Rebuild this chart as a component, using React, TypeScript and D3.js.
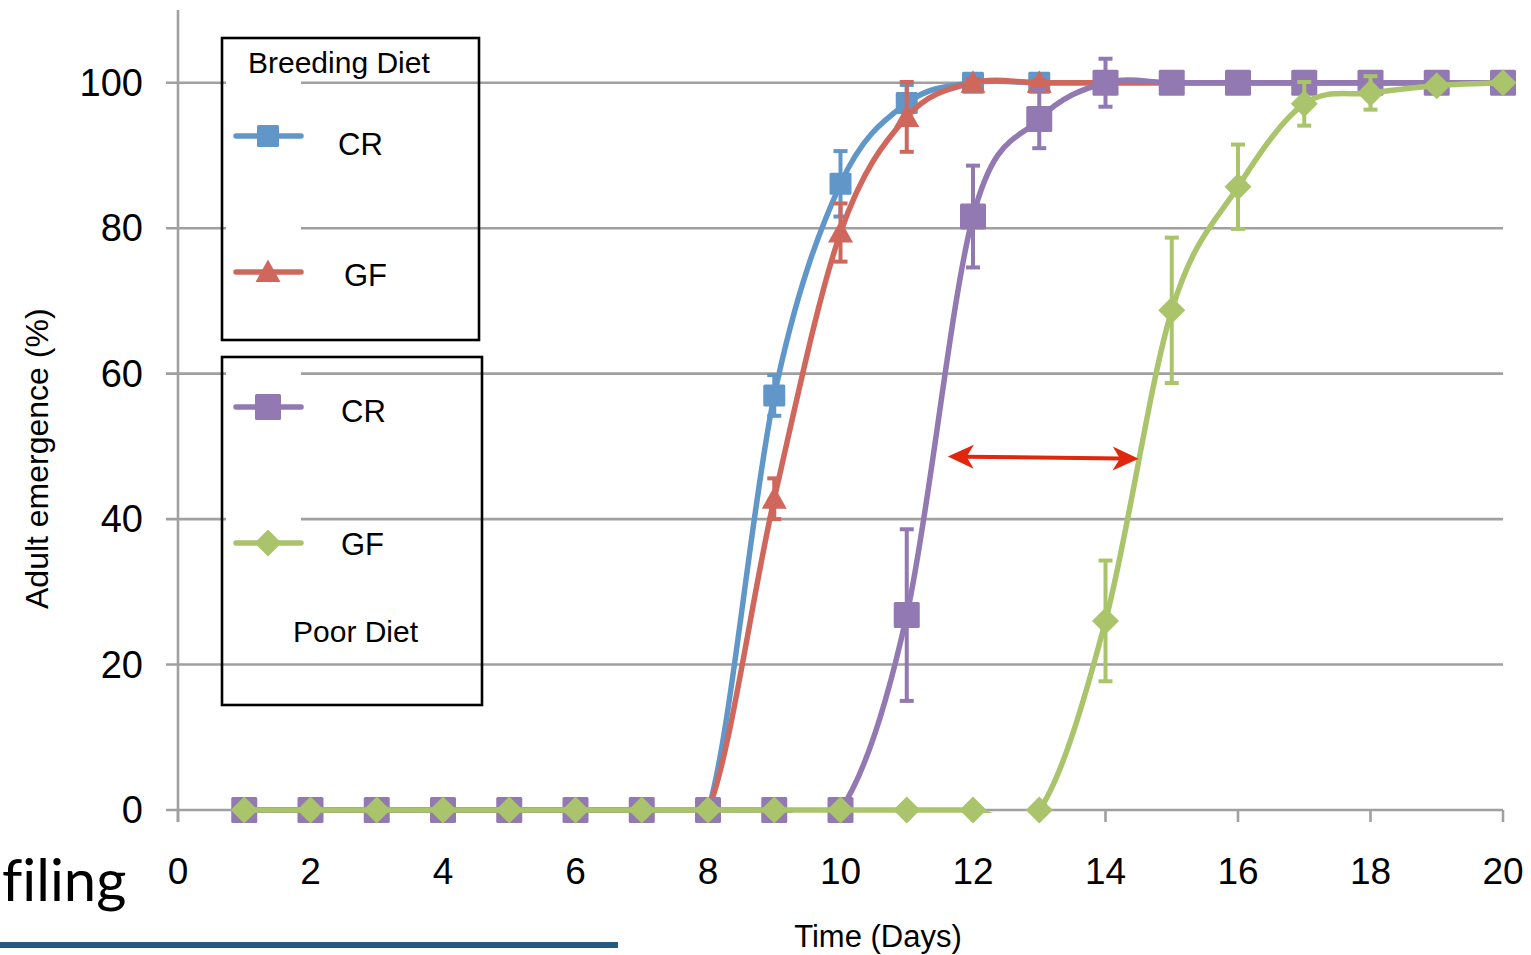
import React from "react";
import * as d3 from "d3";

// emergence (%) by day
const days = [1, 2, 3, 4, 5, 6, 7, 8, 9, 10, 11, 12, 13, 14, 15, 16, 17, 18, 19, 20];

const breedingCR = [0, 0, 0, 0, 0, 0, 0, 0, 57, 86.1, 97.2, 100, 100, 100, 100, 100, 100, 100, 100, 100];
const breedingCRErr = [0, 0, 0, 0, 0, 0, 0, 0, 2.8, 4.5, 2.5, 0.5, 0.4, 0, 0, 0, 0, 0, 0, 0];

const breedingGF = [0, 0, 0, 0, 0, 0, 0, 0, 42.8, 79.4, 95.3, 100, 100, 100, 100, 100, 100, 100, 100, 100];
const breedingGFErr = [0, 0, 0, 0, 0, 0, 0, 0, 2.8, 4, 4.8, 0.5, 0.3, 0, 0, 0, 0, 0, 0, 0];

const poorCR = [0, 0, 0, 0, 0, 0, 0, 0, 0, 0, 26.8, 81.6, 95, 100, 100, 100, 100, 100, 100, 100];
const poorCRErr = [0, 0, 0, 0, 0, 0, 0, 0, 0, 0, 11.8, 7, 4, 3.3, 0, 0, 0, 0, 0, 0];

const poorGF = [0, 0, 0, 0, 0, 0, 0, 0, 0, 0, 0, 0, 0, 26, 68.7, 85.7, 97.1, 98.6, 99.6, 100];
const poorGFErr = [0, 0, 0, 0, 0, 0, 0, 0, 0, 0, 0, 0, 0, 8.3, 10, 5.8, 3, 2.3, 0, 0];

const xTicks = [0, 2, 4, 6, 8, 10, 12, 14, 16, 18, 20];
const yTicks = [0, 20, 40, 60, 80, 100];

// the red double arrow between the two poor-diet curves
const arrowFrom = [11.62, 48.6];
const arrowTo = [14.5, 48.3];

const series = [
  { name: "CR", values: breedingCR, err: breedingCRErr, color: "#6097c8", marker: "square", size: 22 },
  { name: "GF", values: breedingGF, err: breedingGFErr, color: "#d0675c", marker: "triangle", size: 25 },
  { name: "CR", values: poorCR, err: poorCRErr, color: "#9279b2", marker: "square", size: 26 },
  { name: "GF", values: poorGF, err: poorGFErr, color: "#a9c46b", marker: "diamond", size: 27 },
];

const W = 1531;
const H = 955;
const font = "'Liberation Sans', Arial, sans-serif";

function Marker({ type, x, y, size, color }: any) {
  const h = size / 2;
  if (type === "square") {
    return <rect x={x - h} y={y - h} width={size} height={size} fill={color} rx={1.5} />;
  }
  if (type === "triangle") {
    return <path d={`M${x},${y - h}L${x + h},${y + h * 0.8}L${x - h},${y + h * 0.8}Z`} fill={color} />;
  }
  return <path d={`M${x},${y - h}L${x + h},${y}L${x},${y + h}L${x - h},${y}Z`} fill={color} />;
}

export default function App() {
  const x = d3.scaleLinear().domain([0, 20]).range([178, 1503]);
  const y = d3.scaleLinear().domain([0, 110]).range([810, 10]);

  const line = d3
    .line<number>()
    .x((_, i) => x(days[i]))
    .y((d) => y(d))
    .curve(d3.curveCatmullRom.alpha(0));

  const ax0 = x(arrowFrom[0]);
  const ay0 = y(arrowFrom[1]);
  const ax1 = x(arrowTo[0]);
  const ay1 = y(arrowTo[1]);
  const ang = Math.atan2(ay1 - ay0, ax1 - ax0);
  const head = (tx: number, ty: number, a: number) => {
    const L = 26, w = 12;
    const bx = tx - L * Math.cos(a), by = ty - L * Math.sin(a);
    const nx = -Math.sin(a), ny = Math.cos(a);
    const mx = tx - L * 0.72 * Math.cos(a), my = ty - L * 0.72 * Math.sin(a);
    return `M${tx},${ty}L${bx + nx * w},${by + ny * w}L${mx},${my}L${bx - nx * w},${by - ny * w}Z`;
  };

  const legendItems = [
    { s: series[0], ly: 136, tx: 338, ty: 155 },
    { s: series[1], ly: 272, tx: 344, ty: 286 },
    { s: series[2], ly: 407, tx: 341, ty: 422 },
    { s: series[3], ly: 543, tx: 341, ty: 555 },
  ];

  return (
    <svg width={W} height={H} style={{ position: "absolute", left: 0, top: 0, background: "#fff" }}>
      <defs>
        <clipPath id="plotClip">
          <rect x={170} y={0} width={1345} height={y(0) + 3} />
        </clipPath>
      </defs>
      <rect width={W} height={H} fill="#fff" />

      {/* grid and axes */}
      {yTicks.map((t) => (
        <line key={"g" + t} x1={166} x2={x(20)} y1={y(t)} y2={y(t)} stroke="#a0a0a0" strokeWidth={2.6} />
      ))}
      <rect x={226} y={40} width={75} height={560} fill="#fff" />
      <line x1={x(0)} x2={x(0)} y1={y(110)} y2={y(0) + 12} stroke="#a0a0a0" strokeWidth={2.6} />
      {xTicks.map((t) => (
        <line key={"xt" + t} x1={x(t)} x2={x(t)} y1={y(0)} y2={y(0) + 12} stroke="#a0a0a0" strokeWidth={2.6} />
      ))}
      {yTicks.map((t) => (
        <text key={"yl" + t} x={143} y={y(t) + 13} textAnchor="end" fontFamily={font} fontSize={38} fill="#000">
          {t}
        </text>
      ))}
      {xTicks.map((t) => (
        <text key={"xl" + t} x={x(t)} y={884} textAnchor="middle" fontFamily={font} fontSize={37} fill="#000">
          {t}
        </text>
      ))}
      <text
        transform={`translate(48,${y(48.3)}) rotate(-90)`}
        textAnchor="middle"
        fontFamily={font}
        fontSize={32}
        fill="#000"
      >
        Adult emergence (%)
      </text>
      <text x={878} y={947} textAnchor="middle" fontFamily={font} fontSize={31} fill="#000">
        Time (Days)
      </text>

      {/* series */}
      {series.map((s, si) => (
        <g key={"s" + si}>
          {s.values.map((v, i) =>
            s.err[i] > 0 ? (
              <g key={"e" + i} stroke={s.color} strokeWidth={4}>
                <line x1={x(days[i])} x2={x(days[i])} y1={y(v - s.err[i])} y2={y(v + s.err[i])} />
                <line x1={x(days[i]) - 7} x2={x(days[i]) + 7} y1={y(v - s.err[i])} y2={y(v - s.err[i])} />
                <line x1={x(days[i]) - 7} x2={x(days[i]) + 7} y1={y(v + s.err[i])} y2={y(v + s.err[i])} />
              </g>
            ) : null
          )}
          <path
            d={line(s.values) || ""}
            fill="none"
            stroke={s.color}
            strokeWidth={5.5}
            strokeLinecap="round"
            clipPath="url(#plotClip)"
          />
          {s.values.map((v, i) => (
            <Marker key={"m" + i} type={s.marker} x={x(days[i])} y={y(v)} size={s.size} color={s.color} />
          ))}
        </g>
      ))}

      {/* annotation arrow */}
      <line
        x1={ax0 + 18 * Math.cos(ang)}
        y1={ay0 + 18 * Math.sin(ang)}
        x2={ax1 - 18 * Math.cos(ang)}
        y2={ay1 - 18 * Math.sin(ang)}
        stroke="#e0260c"
        strokeWidth={4}
      />
      <path d={head(ax1, ay1, ang)} fill="#e0260c" />
      <path d={head(ax0, ay0, ang + Math.PI)} fill="#e0260c" />

      {/* legend boxes */}
      <rect x={222} y={38} width={257} height={302} fill="none" stroke="#000" strokeWidth={2.6} />
      <rect x={222} y={357} width={260} height={348} fill="none" stroke="#000" strokeWidth={2.6} />
      <text x={248} y={73} fontFamily={font} fontSize={30} fill="#000">
        Breeding Diet
      </text>
      <text x={293} y={642} fontFamily={font} fontSize={30} fill="#000">
        Poor Diet
      </text>
      {legendItems.map((it, i) => (
        <g key={"lg" + i}>
          <line x1={236} x2={301} y1={it.ly} y2={it.ly} stroke={it.s.color} strokeWidth={5.5} strokeLinecap="round" />
          <Marker type={it.s.marker} x={268} y={it.ly} size={it.s.size} color={it.s.color} />
          <text x={it.tx} y={it.ty} fontFamily={font} fontSize={31} fill="#000">
            {it.s.name}
          </text>
        </g>
      ))}

      {/* slide fragment at the lower left */}
      <text
        x={2}
        y={901}
        fontFamily="Lato, sans-serif"
        fontSize={58}
        fill="#000"
        style={{ fontVariantLigatures: "none" }}
      >
        filing
      </text>
      <rect x={0} y={942} width={618} height={6} fill="#235a82" />
    </svg>
  );
}
